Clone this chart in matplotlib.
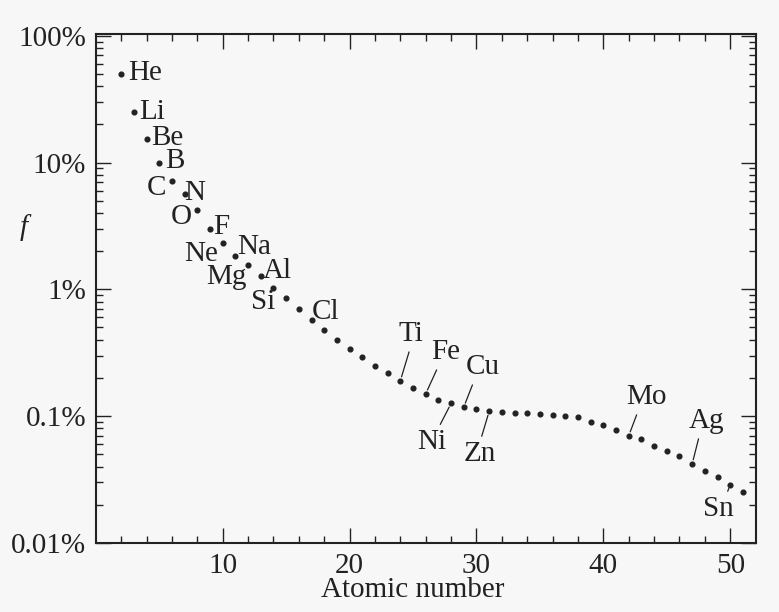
import numpy as np
import matplotlib
matplotlib.use("Agg")
import matplotlib.pyplot as plt
from matplotlib.ticker import FixedLocator, LogLocator, FuncFormatter, NullFormatter

# fraction f (in %) against atomic number Z = 2 ... 51
z = list(range(2, 52))
f = [50, 25, 15.4, 10, 7.2, 5.6, 4.2, 3.0, 2.3, 1.83,
     1.55, 1.27, 1.03, 0.85, 0.70, 0.57, 0.48, 0.40, 0.34, 0.29,
     0.25, 0.218, 0.19, 0.168, 0.150, 0.134, 0.126, 0.118, 0.113, 0.109,
     0.107, 0.106, 0.106, 0.103, 0.102, 0.101, 0.098, 0.090, 0.085, 0.078,
     0.070, 0.066, 0.058, 0.053, 0.048, 0.042, 0.037, 0.033, 0.0288, 0.0251]

# element names written next to their dots (text centre in data coords)
near_names = ["He", "Li", "Be", "B", "C", "N", "O", "F", "Ne", "Na", "Mg", "Al", "Si", "Cl"]
near_x = [3.9, 4.4, 5.6, 6.2, 4.8, 7.8, 6.7, 9.9, 8.3, 12.5, 10.3, 14.3, 13.2, 18.1]
near_y = [51, 25.2, 15.7, 10.2, 6.35, 5.8, 3.69, 3.13, 1.89, 2.14, 1.24, 1.39, 0.79, 0.66]

# element names joined to a dot by a short leader line
lead_names = ["Ti", "Fe", "Cu", "Ni", "Zn", "Mo", "Ag", "Sn"]
lead_z = [24, 26, 29, 28, 31, 42, 47, 50]
lead_x = [24.8, 27.6, 30.5, 26.5, 30.3, 43.4, 48.1, 49.1]
lead_y = [0.443, 0.319, 0.243, 0.0624, 0.0502, 0.141, 0.0914, 0.0185]
lead_rel = [(0.5, 0), (0.25, 0), (0.25, 0), (0.7, 1), (0.5, 1), (0.3, 0), (0.32, 0), (0.73, 1)]

bg = "#f7f7f7"
ink = "#222222"
serif = ["Liberation Serif", "DejaVu Serif"]
fs = 21

fig = plt.figure(figsize=(7.79, 6.12), dpi=100, facecolor=bg)
ax = fig.add_axes([0.123, 0.113, 0.847, 0.832], facecolor=bg)

ax.semilogy(z, f, linestyle="none", marker="o", ms=3.4, color=ink)

ax.set_xlim(0, 52)
ax.set_ylim(0.01, 104)

ax.xaxis.set_major_locator(FixedLocator([10, 20, 30, 40, 50]))
ax.xaxis.set_minor_locator(FixedLocator(np.arange(2, 52, 2)))
ax.yaxis.set_major_locator(LogLocator(base=10, numticks=10))
ax.yaxis.set_minor_locator(LogLocator(base=10, subs=np.arange(2, 10), numticks=20))
ax.yaxis.set_major_formatter(FuncFormatter(lambda v, p: f"{v:g}%"))
ax.yaxis.set_minor_formatter(NullFormatter())

ax.tick_params(which="both", direction="in", top=True, right=True, color=ink, width=1)
ax.tick_params(which="major", length=11, pad=7, labelsize=fs, labelcolor=ink)
ax.tick_params(which="minor", length=5)
for lab in ax.get_xticklabels() + ax.get_yticklabels():
    lab.set_family(serif)
for s in ax.spines.values():
    s.set_linewidth(1.5)
    s.set_color(ink)

ax.set_xlabel("Atomic number", family=serif, fontsize=fs, color=ink)
ax.xaxis.set_label_coords(0.48, -0.068)
ax.set_ylabel("f", family=serif, style="italic", fontsize=fs, rotation=0, color=ink)
ax.yaxis.set_label_coords(-0.109, 0.593)

for name, x, y in zip(near_names, near_x, near_y):
    ax.text(x, y, name, ha="center", va="center", family=serif, fontsize=fs, color=ink)

for name, zz, x, y, rel in zip(lead_names, lead_z, lead_x, lead_y, lead_rel):
    ax.annotate(name, xy=(zz, f[z.index(zz)]), xytext=(x, y),
                ha="center", va="center", family=serif, fontsize=fs, color=ink,
                arrowprops=dict(arrowstyle="-", color=ink, lw=0.9,
                                shrinkA=1.5, shrinkB=3, relpos=rel))

fig.savefig("out.png", dpi=100, facecolor=bg)
